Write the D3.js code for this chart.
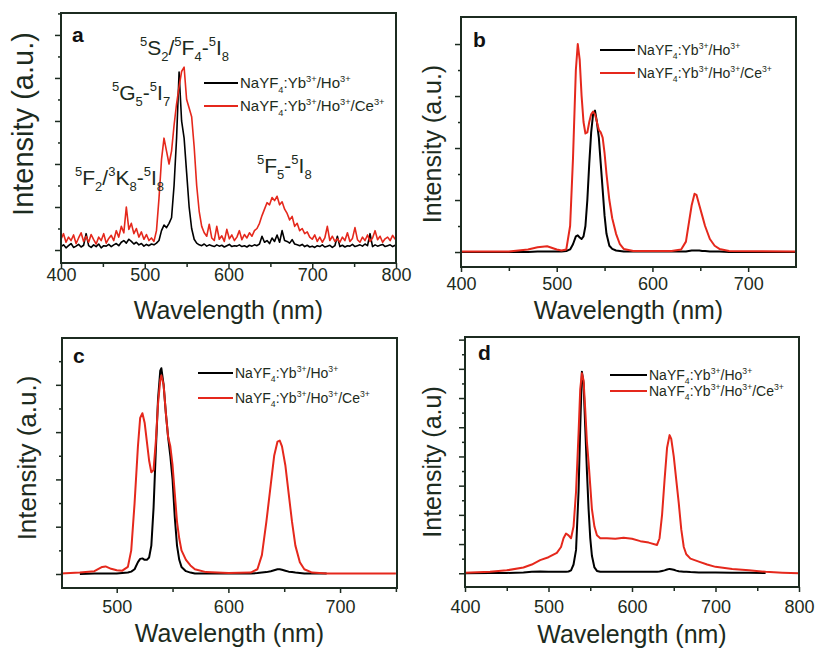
<!DOCTYPE html>
<html lang="en">
<head>
  <meta charset="UTF-8">
  <title>Upconversion spectra</title>
  <script src="https://cdnjs.cloudflare.com/ajax/libs/d3/7.8.5/d3.min.js"></script>
  <style>
    body { margin: 0; background: white; }
    svg { background: white; font-family: "Liberation Sans", Arial, sans-serif; }
  </style>
</head>
<body>
  <script>
    // ---- panel a (noisy spectra, 3 nm grid) ----
    var aWave = d3.range(400, 800, 3);
    var aBlack = [
      0.08,0.12,0.05,0.10,0.15,0.06,0.09,0.13,0.07,0.11,
      0.38,0.10,0.06,0.12,0.08,0.14,0.05,0.10,0.09,0.13,
      0.08,0.12,0.15,0.10,0.18,0.22,0.16,0.25,0.20,0.14,
      0.18,0.12,0.15,0.09,0.13,0.10,0.14,0.12,0.16,0.22,
      0.45,0.58,0.52,0.62,0.75,1.50,2.60,4.14,3.00,2.60,
      1.80,1.00,0.50,0.25,0.16,0.12,0.10,0.14,0.09,0.12,
      0.10,0.08,0.12,0.09,0.11,0.07,0.10,0.13,0.08,0.10,
      0.09,0.12,0.08,0.10,0.07,0.11,0.09,0.12,0.10,0.14,
      0.32,0.18,0.22,0.15,0.28,0.20,0.35,0.18,0.45,0.22,
      0.20,0.16,0.24,0.14,0.12,0.10,0.13,0.08,0.11,0.07,
      0.09,0.06,0.10,0.08,0.12,0.07,0.09,0.11,0.06,0.10,
      0.32,0.08,0.11,0.07,0.10,0.09,0.13,0.08,0.10,0.12,
      0.09,0.14,0.10,0.38,0.08,0.12,0.09,0.11,0.13,0.08,
      0.10,0.12,0.08,0.11
    ];
    var aRed = [
      0.25,0.38,0.18,0.30,0.22,0.35,0.15,0.28,0.40,0.20,
      0.32,0.18,0.36,0.24,0.14,0.30,0.22,0.38,0.16,0.27,
      0.34,0.22,0.45,0.30,0.55,0.40,1.00,0.48,0.62,0.38,
      0.50,0.30,0.42,0.25,0.36,0.22,0.28,0.20,0.45,1.20,
      2.10,2.60,2.30,2.00,2.30,2.90,3.40,3.80,4.15,4.25,
      3.50,3.30,3.10,2.40,1.50,0.90,0.55,0.40,0.32,0.60,
      0.28,0.22,0.55,0.25,0.33,0.20,0.48,0.26,0.35,0.22,
      0.30,0.45,0.24,0.36,0.28,0.40,0.32,0.45,0.50,0.62,
      0.80,0.95,1.10,1.05,1.22,1.15,1.25,1.05,1.12,0.95,
      0.85,0.70,0.78,0.55,0.62,0.45,0.50,0.38,0.42,0.30,
      0.25,0.35,0.20,0.30,0.18,0.28,0.55,0.22,0.32,0.20,
      0.26,0.18,0.30,0.22,0.40,0.20,0.27,0.52,0.24,0.18,
      0.30,0.22,0.35,0.20,0.28,0.45,0.24,0.32,0.18,0.26,
      0.30,0.22,0.34,0.25
    ];

    // ---- panel b ----
    var bWave  = [400,450,470,480,490,500,505,510,514,517,520,522,524,526,528,530,532,534,536,538,540,542,544,546,548,550,552,555,558,562,566,570,580,620,630,635,638,641,644,646,649,652,655,660,665,670,680,750];
    var bBlack = [0,0,0,0.01,0.01,0.01,0.01,0.02,0.05,0.15,0.30,0.32,0.28,0.25,0.30,0.50,1.00,1.70,2.30,2.65,2.72,2.50,2.20,1.70,1.20,0.70,0.35,0.12,0.06,0.03,0.02,0.01,0.01,0.01,0.01,0.01,0.02,0.03,0.03,0.03,0.03,0.02,0.02,0.01,0.01,0.01,0,0];
    var bRed   = [0.01,0.01,0.05,0.09,0.11,0.05,0.03,0.05,0.50,1.80,3.50,4.00,3.70,3.00,2.50,2.28,2.30,2.50,2.65,2.70,2.65,2.50,2.35,2.30,2.20,1.90,1.50,1.00,0.65,0.35,0.15,0.06,0.02,0.02,0.05,0.20,0.55,0.90,1.12,1.10,0.90,0.70,0.50,0.25,0.12,0.06,0.02,0.01];

    // ---- panel c ----
    var cWave  = [450,467,480,487,490,495,500,505,510,513,516,519,521,523,525,527,529,531,533,535,537,539,540,542,544,546,548,550,552,554,556,558,562,566,570,580,600,620,626,630,634,638,641,644,646,648,651,654,657,660,664,668,675,688,750];
    var cBlack = [null,0,0.01,0.01,0.01,0.01,0.01,0.02,0.03,0.05,0.10,0.25,0.32,0.33,0.30,0.30,0.35,0.60,1.40,2.60,3.70,4.30,4.35,4.00,3.40,2.90,2.50,2.00,1.20,0.60,0.30,0.15,0.06,0.03,0.01,0.01,0.01,0.01,0.02,0.03,0.04,0.06,0.08,0.10,0.10,0.09,0.07,0.05,0.04,0.03,0.02,0.01,0.01,0.01,null];
    var cRed   = [0.01,0.03,0.06,0.15,0.16,0.11,0.08,0.07,0.15,0.50,1.50,2.70,3.30,3.40,3.20,2.80,2.40,2.15,2.20,2.80,3.60,4.10,4.20,4.00,3.40,2.90,2.70,2.30,1.70,1.10,0.75,0.50,0.30,0.18,0.10,0.04,0.02,0.03,0.10,0.40,1.10,1.90,2.50,2.80,2.82,2.70,2.30,1.70,1.10,0.60,0.25,0.10,0.03,0.01,0.01];

    // ---- panel d ----
    var dWave  = [400,430,450,470,480,490,500,510,515,518,521,524,527,530,533,536,538,540,542,544,546,548,550,552,555,558,562,570,580,590,600,610,620,630,633,636,639,642,645,647,650,653,656,659,662,665,670,680,690,700,720,740,760,780,800];
    var dBlack = [0,0.01,0.01,0.03,0.05,0.06,0.05,0.05,0.05,0.05,0.05,0.06,0.10,0.30,0.80,2.80,5.00,6.90,6.50,5.00,3.50,2.20,1.20,0.60,0.20,0.08,0.05,0.05,0.05,0.05,0.05,0.05,0.05,0.05,0.06,0.08,0.10,0.13,0.15,0.14,0.12,0.09,0.07,0.06,0.05,0.05,0.04,0.03,0.03,0.03,0.02,0.02,0.01,null,null];
    var dRed   = [0.02,0.05,0.10,0.20,0.30,0.45,0.55,0.70,0.90,1.20,1.36,1.30,1.20,1.60,2.80,4.80,6.30,6.85,6.60,5.60,4.50,3.80,3.00,2.20,1.60,1.30,1.20,1.20,1.18,1.22,1.18,1.10,1.05,0.97,1.20,2.00,3.20,4.30,4.73,4.60,4.00,3.20,2.40,1.50,0.90,0.65,0.50,0.40,0.30,0.22,0.15,0.10,0.05,0.02,0];

    var blackLabel = [["NaYF"],["4","sub"],[":Yb"],["3+","sup"],["/Ho"],["3+","sup"]];
    var redLabel = blackLabel.concat([["/Ce"],["3+","sup"]]);

    var ink = "#1c2b20";
    var red = "#e5281c";

    var svg = d3.select("body").append("svg")
      .attr("width", 816)
      .attr("height", 648);

    function rich(g, x, y, parts, size) {
      var t = g.append("text").attr("x", x).attr("y", y)
        .attr("fill", ink).style("font-size", size + "px");
      var shift = 0;
      parts.forEach(function(p) {
        var target = p[1] === "sub" ? size * 0.3 : p[1] === "sup" ? -size * 0.42 : 0;
        var ts = t.append("tspan").attr("dy", target - shift).text(p[0]);
        if (p[1]) ts.style("font-size", (size * 0.62) + "px");
        shift = target;
      });
      return t;
    }

    var panels = [
      { id: "a", wave: aWave, black: aBlack, red: aRed,
        box: [61, 396, 13, 263], xDom: [400, 800], yDom: [-0.302, 5.51],
        xMajor: [400, 500, 600, 700, 800], xMinor: [450, 550, 650, 750],
        yMajor: [0, 1, 2, 3, 4, 5], yMinor: [0.5, 1.5, 2.5, 3.5, 4.5, 5.5],
        letter: [72, 42], legend: [204, 238, 83, 106], legendSize: 15,
        tickY: 12, titleY: 319, yTitle: [23, 124, 29], yText: "Intensity (a.u.)" },
      { id: "b", wave: bWave, black: bBlack, red: bRed,
        box: [461, 796, 17, 267], xDom: [400, 750], yDom: [-0.288, 4.52],
        xMajor: [400, 500, 600, 700], xMinor: [450, 550, 650],
        yMajor: [0, 1, 2, 3, 4], yMinor: [0.5, 1.5, 2.5, 3.5],
        letter: [473, 47], legend: [600, 635, 50, 73], legendSize: 14,
        tickY: 17, titleY: 319, yTitle: [432, 144, 25], yText: "Intensity (a.u.)" },
      { id: "c", wave: cWave, black: cBlack, red: cRed,
        box: [62, 397, 338, 588], xDom: [451, 751], yDom: [-0.296, 4.99],
        xMajor: [500, 600, 700], xMinor: [550, 650, 750],
        yMajor: [0, 1, 2, 3, 4], yMinor: [0.5, 1.5, 2.5, 3.5, 4.5],
        letter: [73, 363], legend: [198, 233, 373, 398], legendSize: 14,
        tickY: 19, titleY: 642, yTitle: [27, 458, 26], yText: "Intensity (a.u.)" },
      { id: "d", wave: dWave, black: dBlack, red: dRed,
        box: [465, 799, 337, 587], xDom: [400, 800], yDom: [-0.47, 8.09],
        xMajor: [400, 500, 600, 700, 800], xMinor: [450, 550, 650, 750],
        yMajor: [0, 1, 2, 3, 4, 5, 6, 7, 8], yMinor: [0.5, 1.5, 2.5, 3.5, 4.5, 5.5, 6.5, 7.5],
        letter: [478, 360], legend: [610, 647, 375, 391], legendSize: 14,
        tickY: 20, titleY: 643, yTitle: [432, 462, 25], yText: "Intensity (a.u)" }
    ];

    panels.forEach(function(p) {
      var g = svg.append("g");
      var x = d3.scaleLinear().domain(p.xDom).range([p.box[0], p.box[1]]);
      var y = d3.scaleLinear().domain(p.yDom).range([p.box[3], p.box[2]]);

      // series
      [["black", "#000"], ["red", red]].forEach(function(s) {
        var pts = p.wave.map(function(w, i) { return [w, p[s[0]][i]]; });
        var line = d3.line()
          .defined(function(d) { return d[1] !== null; })
          .x(function(d) { return x(d[0]); })
          .y(function(d) { return y(d[1]); });
        g.append("path").datum(pts)
          .attr("d", line)
          .attr("fill", "none")
          .attr("stroke", s[1])
          .attr("stroke-width", p.id === "a" ? 1.6 : 2)
          .attr("stroke-linejoin", "round");
      });

      // axes
      var bottom = g.append("g").attr("transform", "translate(0," + p.box[3] + ")");
      bottom.call(d3.axisBottom(x).tickValues(p.xMajor).tickSize(5).tickFormat(d3.format("d")));
      bottom.append("g").call(d3.axisBottom(x).tickValues(p.xMinor).tickSize(4).tickFormat(""));
      bottom.selectAll(".domain").remove();
      bottom.selectAll("line").attr("stroke", ink).attr("stroke-width", 1.5);
      bottom.selectAll("text")
        .attr("y", p.tickY).attr("dy", "0.35em")
        .attr("fill", ink)
        .style("font-size", "18px")
        .style("font-family", "Liberation Sans, Arial, sans-serif");

      var left = g.append("g").attr("transform", "translate(" + p.box[0] + ",0)");
      left.call(d3.axisLeft(y).tickValues(p.yMajor).tickSize(6).tickFormat(""));
      left.append("g").call(d3.axisLeft(y).tickValues(p.yMinor).tickSize(3).tickFormat(""));
      left.selectAll(".domain").remove();
      left.selectAll("line").attr("stroke", ink).attr("stroke-width", 1.5);

      g.append("rect")
        .attr("x", p.box[0]).attr("y", p.box[2])
        .attr("width", p.box[1] - p.box[0]).attr("height", p.box[3] - p.box[2])
        .attr("fill", "none").attr("stroke", ink).attr("stroke-width", 2);

      // titles
      g.append("text")
        .attr("x", (p.box[0] + p.box[1]) / 2).attr("y", p.titleY)
        .attr("text-anchor", "middle").attr("fill", ink)
        .style("font-size", "25px")
        .text("Wavelength (nm)");
      g.append("text")
        .attr("transform", "translate(" + p.yTitle[0] + "," + p.yTitle[1] + ") rotate(-90)")
        .attr("text-anchor", "middle").attr("dy", "0.35em").attr("fill", ink)
        .style("font-size", p.yTitle[2] + "px")
        .text(p.yText);

      g.append("text")
        .attr("x", p.letter[0]).attr("y", p.letter[1])
        .attr("fill", "#111").style("font-size", "21px").style("font-weight", "bold")
        .text(p.id);

      // legend
      var lg = p.legend;
      g.append("line").attr("x1", lg[0]).attr("x2", lg[1]).attr("y1", lg[2]).attr("y2", lg[2])
        .attr("stroke", "#000").attr("stroke-width", 2);
      g.append("line").attr("x1", lg[0]).attr("x2", lg[1]).attr("y1", lg[3]).attr("y2", lg[3])
        .attr("stroke", red).attr("stroke-width", 2);
      rich(g, lg[1] + 2, lg[2] + 5, blackLabel, p.legendSize);
      rich(g, lg[1] + 2, lg[3] + 5, redLabel, p.legendSize);
    });

    // transition labels in panel a
    var notes = [
      { x: 140, y: 55, parts: [["5","sup"],["S"],["2","sub"],["/"],["5","sup"],["F"],["4","sub"],["-"],["5","sup"],["I"],["8","sub"]] },
      { x: 112, y: 100, parts: [["5","sup"],["G"],["5","sub"],["-"],["5","sup"],["I"],["7","sub"]] },
      { x: 75, y: 185, parts: [["5","sup"],["F"],["2","sub"],["/"],["3","sup"],["K"],["8","sub"],["-"],["5","sup"],["I"],["8","sub"]] },
      { x: 257, y: 173, parts: [["5","sup"],["F"],["5","sub"],["-"],["5","sup"],["I"],["8","sub"]] }
    ];
    notes.forEach(function(n) {
      rich(svg, n.x, n.y, n.parts, 21);
    });
  </script>
</body>
</html>
